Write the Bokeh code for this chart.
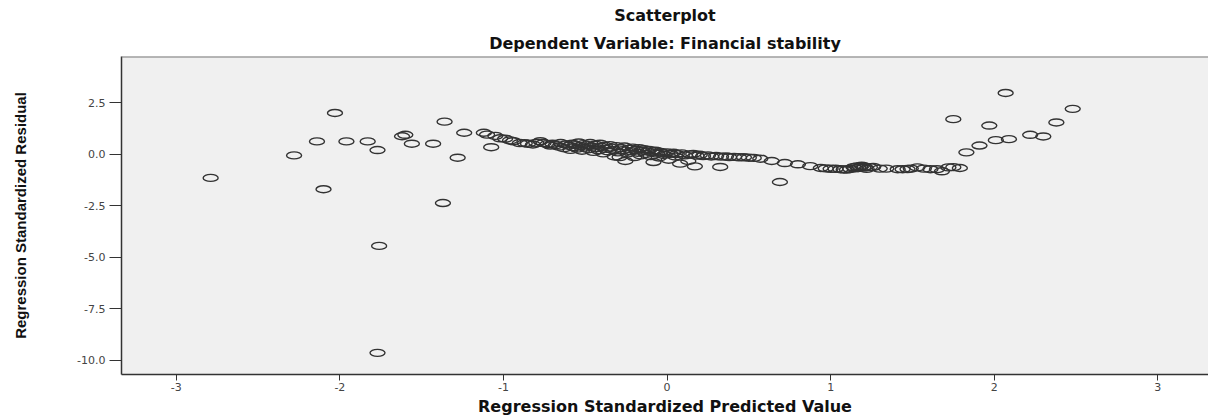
from bokeh.plotting import figure
from bokeh.models import Title, FixedTicker, PrintfTickFormatter, ColumnDataSource, Span
from bokeh.embed import file_html
from bokeh.resources import INLINE

# ---- data -------------------------------------------------------------
left_x = [-2.79, -2.28, -2.14, -2.10, -2.03, -1.96, -1.83, -1.77, -1.76, -1.77,
          -1.62, -1.60, -1.56, -1.43, -1.37, -1.36, -1.28, -1.24, -1.12, -1.10,
          -1.075, -1.05, -1.02]
left_y = [-1.14, -0.05, 0.63, -1.69, 2.01, 0.63, 0.63, 0.21, -4.44, -9.63,
          0.88, 0.95, 0.52, 0.52, -2.36, 1.59, -0.16, 1.05, 1.05, 0.96,
          0.35, 0.90, 0.78]

band_x = [-0.99, -0.96, -0.94, -0.90, -0.87, -0.85, -0.82, -0.80, -0.775, -0.755,
          -0.73, -0.714, -0.70, -0.68, -0.66, -0.65, -0.63, -0.62, -0.60, -0.59,
          -0.58, -0.57, -0.56, -0.55, -0.54, -0.53, -0.52, -0.51, -0.50, -0.49,
          -0.48, -0.47, -0.46, -0.45, -0.44, -0.43, -0.42, -0.41, -0.40, -0.39,
          -0.38, -0.37, -0.36, -0.35, -0.34, -0.33, -0.32, -0.31, -0.30, -0.29,
          -0.28, -0.27, -0.26, -0.255, -0.24, -0.23, -0.22, -0.21, -0.20, -0.19,
          -0.18, -0.17, -0.16, -0.15, -0.14, -0.13, -0.12, -0.11, -0.10, -0.09,
          -0.083, -0.07, -0.06, -0.05, -0.04, -0.03, -0.02, 0.00, 0.01, 0.02,
          0.04, 0.05, 0.06, 0.08, 0.09, 0.11, 0.13, 0.14, 0.16, 0.17,
          0.18, 0.20, 0.22, 0.25, 0.27, 0.30, 0.325, 0.33, 0.36, 0.38,
          0.41, 0.44, 0.47, 0.50, 0.53, 0.57, 0.64, 0.69, 0.72, 0.80,
          0.875, 0.94, 0.97, 1.00, 1.03, 1.06, 1.08, 1.10]
band_y = [0.76, 0.68, 0.64, 0.55, 0.54, 0.52, 0.48, 0.56, 0.64, 0.55,
          0.50, 0.43, 0.52, 0.45, 0.38, 0.55, 0.30, 0.48, 0.42, 0.22,
          0.52, 0.35, 0.45, 0.28, 0.58, 0.40, 0.18, 0.50, 0.33, 0.44,
          0.25, 0.55, 0.38, 0.12, 0.47, 0.30, 0.20, 0.52, 0.36, 0.05,
          0.42, 0.27, 0.15, 0.45, 0.33, 0.22, -0.10, 0.40, 0.10, -0.13,
          0.30, 0.20, 0.38, -0.32, 0.05, 0.27, 0.15, 0.33, -0.13, 0.22,
          0.08, 0.30, -0.05, 0.18, 0.25, 0.02, 0.14, 0.22, -0.08, 0.10,
          -0.37, 0.18, 0.04, -0.15, 0.12, 0.07, -0.02, 0.10, -0.26, 0.03,
          0.08, -0.10, 0.02, -0.45, 0.05, -0.05, -0.32, 0.00, 0.02, -0.58,
          -0.06, -0.02, -0.08, -0.05, -0.10, -0.08, -0.61, -0.11, -0.10, -0.13,
          -0.12, -0.14, -0.14, -0.16, -0.17, -0.21, -0.32, -1.34, -0.42, -0.48,
          -0.57, -0.66, -0.68, -0.70, -0.70, -0.72, -0.73, -0.74]

right_x = [1.12, 1.14, 1.15, 1.16, 1.17, 1.18, 1.19, 1.20, 1.21, 1.22,
           1.24, 1.26, 1.30, 1.34, 1.41, 1.44, 1.47, 1.49, 1.53, 1.57,
           1.61, 1.65, 1.68, 1.72, 1.75, 1.79, 1.75, 1.83, 1.91, 1.97,
           2.01, 2.07, 2.09, 2.22, 2.30, 2.38, 2.48]
right_y = [-0.70, -0.62, -0.68, -0.58, -0.66, -0.61, -0.55, -0.64, -0.60, -0.70,
           -0.62, -0.61, -0.69, -0.69, -0.72, -0.72, -0.71, -0.69, -0.63, -0.69,
           -0.72, -0.72, -0.82, -0.63, -0.62, -0.66, 1.71, 0.10, 0.43, 1.40,
           0.69, 2.98, 0.74, 0.95, 0.87, 1.55, 2.21]

x_ticks = [-3, -2, -1, 0, 1, 2, 3]
y_ticks = [2.5, 0.0, -2.5, -5.0, -7.5, -10.0]

title_main = "Scatterplot"
title_sub = "Dependent Variable: Financial stability"
x_label = "Regression Standardized Predicted Value"
y_label = "Regression Standardized Residual"

# ---- figure -------------------------------------------------------------
src = ColumnDataSource(data=dict(x=left_x + band_x + right_x,
                                 y=left_y + band_y + right_y))

y_top = 4.75
p = figure(width=1208, height=418, x_range=(-3.335, 3.31), y_range=(-10.68, y_top),
           output_backend="svg", toolbar_location=None,
           min_border_left=121, min_border_right=0, min_border_top=10, min_border_bottom=10,
           background_fill_color="#f0f0f0", border_fill_color="white")

p.add_layout(Title(text=title_sub, align="center", text_font="DejaVu Sans",
                   text_font_style="bold", text_font_size="16px", text_color="#111111",
                   standoff=8), "above")
p.add_layout(Title(text=title_main, align="center", text_font="DejaVu Sans",
                   text_font_style="bold", text_font_size="16px", text_color="#111111",
                   standoff=6), "above")

p.ellipse(x="x", y="y", width=15, height=7, width_units="screen", height_units="screen",
          source=src, fill_alpha=0, line_color="#333333", line_width=1.4)

# top border of the frame (right side is cut off in the reference)
p.add_layout(Span(location=y_top, dimension="width", line_color="#777777", line_width=2))

p.grid.visible = False
p.outline_line_color = None

for ax in (p.xaxis[0], p.yaxis[0]):
    ax.axis_line_color = "#333333"
    ax.axis_line_width = 1.5
    ax.major_tick_line_color = "#333333"
    ax.minor_tick_line_color = None
    ax.major_tick_in = 0
    ax.major_label_text_font = "DejaVu Sans"
    ax.major_label_text_font_size = "11px"
    ax.major_label_text_color = "#444444"
    ax.axis_label_text_color = "#111111"
    ax.axis_label_text_font_style = "bold"

p.xaxis.ticker = FixedTicker(ticks=x_ticks)
p.xaxis.formatter = PrintfTickFormatter(format="%d")
p.xaxis.major_tick_out = 6
p.xaxis.major_label_standoff = 2
p.xaxis.axis_label = x_label
p.xaxis.axis_label_text_font = "DejaVu Sans"
p.xaxis.axis_label_text_font_size = "16px"
p.xaxis.axis_label_standoff = 3

p.yaxis.ticker = FixedTicker(ticks=y_ticks)
p.yaxis.formatter = PrintfTickFormatter(format="%.1f")
p.yaxis.major_tick_out = 12
p.yaxis.major_label_standoff = 4
p.yaxis.axis_label = y_label
p.yaxis.axis_label_text_font = "Liberation Sans"
p.yaxis.axis_label_text_font_size = "15px"
p.yaxis.axis_label_standoff = 45

open("out.html", "w").write(file_html(p, INLINE))
